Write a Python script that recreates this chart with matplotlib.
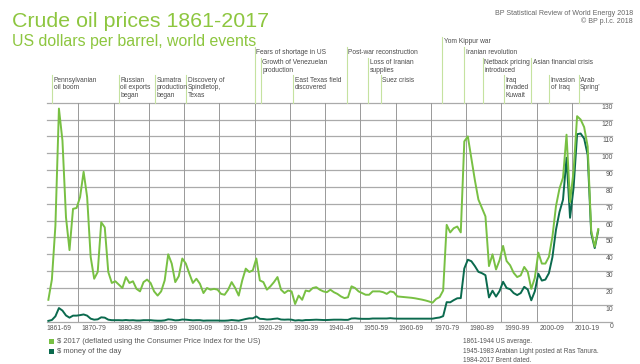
import matplotlib
matplotlib.use("Agg")
import matplotlib.pyplot as plt
import matplotlib.transforms as mtransforms
from matplotlib.patches import Rectangle
import numpy as np

plt.rcParams['font.family'] = ['Liberation Sans', 'DejaVu Sans']

# data
years = np.arange(1861, 2018)

usd_2017 = [
    13.0, 25.0, 57.0, 126.5, 107.5, 62.0, 42.5, 67.0, 67.5,             # 1861-69
    74.0, 89.0, 74.0, 38.5, 25.5, 29.5, 59.0, 56.0, 29.5, 23.0,         # 1870-79
    24.0, 22.0, 20.0, 26.5, 23.0, 24.0, 19.5, 18.0, 23.5, 25.0,         # 1880-89
    23.0, 18.0, 15.5, 18.0, 24.5, 40.0, 34.5, 23.5, 27.0, 37.5,         # 1890-99
    34.5, 28.5, 23.0, 25.5, 22.5, 17.0, 20.0, 19.0, 19.5, 19.0,         # 1900-09
    16.5, 16.0, 19.0, 23.5, 20.0, 15.5, 24.5, 31.5, 29.5, 30.5,         # 1910-19
    37.5, 24.5, 23.5, 19.0, 21.0, 23.5, 26.5, 19.0, 17.0, 18.5,         # 1920-29
    18.0, 10.5, 15.5, 13.0, 18.5, 18.0, 20.0, 20.5, 19.0, 18.0,         # 1930-39
    17.5, 19.0, 17.5, 16.5, 15.0, 14.0, 14.5, 21.0, 20.0, 18.0,         # 1940-49
    17.0, 16.0, 16.0, 18.0, 18.0, 18.0, 17.5, 16.5, 18.0, 17.5,         # 1950-59
    15.0, 14.8, 14.6, 14.4, 14.2, 13.9, 13.5, 13.1, 12.6, 12.0,         # 1960-69
    11.3, 13.5, 14.6, 18.5, 57.5, 53.0, 55.5, 56.5, 53.0, 107.0,        # 1970-79
    110.0, 97.0, 84.0, 72.5, 67.5, 62.5, 33.0, 40.0, 31.0, 36.5,        # 1980-89
    45.0, 36.0, 33.5, 29.0, 26.5, 27.5, 32.5, 29.5, 19.5, 26.0,         # 1990-99
    41.0, 34.5, 34.5, 38.5, 50.5, 68.5, 79.0, 85.5, 111.0, 71.0,        # 2000-09
    89.5, 122.0, 120.0, 115.5, 104.0, 54.0, 44.5, 55.0,                 # 2010-17
]

usd_money_of_day = [
    0.5, 1.0, 3.2, 8.1, 6.6, 3.7, 2.4, 3.6, 3.6,                        # 1861-69
    3.9, 4.3, 3.6, 1.8, 1.2, 1.4, 2.6, 2.4, 1.2, 0.9,                   # 1870-79
    0.9, 0.9, 0.8, 1.0, 0.8, 0.9, 0.7, 0.7, 0.9, 0.9,                   # 1880-89
    0.9, 0.7, 0.6, 0.6, 0.8, 1.4, 1.2, 0.8, 0.9, 1.3,                   # 1890-99
    1.2, 1.0, 0.8, 0.9, 0.9, 0.6, 0.7, 0.7, 0.7, 0.7,                   # 1900-09
    0.6, 0.6, 0.7, 1.0, 0.8, 0.6, 1.1, 1.6, 2.0, 2.0,                   # 1910-19
    3.1, 1.7, 1.6, 1.3, 1.4, 1.7, 1.9, 1.3, 1.2, 1.3,                   # 1920-29
    1.2, 0.7, 0.9, 0.7, 1.0, 1.0, 1.1, 1.2, 1.1, 1.0,                   # 1930-39
    1.0, 1.1, 1.2, 1.2, 1.2, 1.1, 1.1, 1.9, 2.0, 1.8,                   # 1940-49
    1.7, 1.7, 1.7, 1.9, 1.9, 1.9, 1.9, 1.9, 2.1, 1.9,                   # 1950-59
    1.8, 1.8, 1.8, 1.8, 1.8, 1.8, 1.8, 1.8, 1.8, 1.8,                   # 1960-69
    1.8, 2.2, 2.5, 3.3, 11.6, 11.5, 12.8, 13.9, 14.0, 31.6,             # 1970-79
    36.8, 35.9, 33.0, 29.6, 28.8, 27.6, 14.4, 18.4, 14.9, 18.2,         # 1980-89
    23.7, 20.0, 19.3, 17.0, 15.8, 17.0, 20.7, 19.1, 12.7, 18.0,         # 1990-99
    28.5, 24.4, 25.0, 28.8, 38.3, 54.5, 65.1, 72.4, 97.3, 61.7,         # 2000-09
    79.5, 111.3, 111.7, 108.7, 99.0, 52.4, 43.7, 54.2,                  # 2010-17
]

decade_starts = list(range(1860, 2020, 10))
decade_labels = ["1861-69", "1870-79", "1880-89", "1890-99", "1900-09",
                 "1910-19", "1920-29", "1930-39", "1940-49", "1950-59",
                 "1960-69", "1970-79", "1980-89", "1990-99", "2000-09", "2010-19"]
y_ticks = list(range(0, 140, 10))

event_names = ["Pennsylvanian\noil boom", "Russian\noil exports\nbegan",
               "Sumatra\nproduction\nbegan", "Discovery of\nSpindletop,\nTexas",
               "Fears of shortage in US", "Growth of Venezuelan\nproduction",
               "East Texas field\ndiscovered", "Post-war reconstruction",
               "Loss of Iranian\nsupplies", "Suez crisis", "Yom Kippur war",
               "Iranian revolution", "Netback pricing\nintroduced",
               "Iraq\ninvaded\nKuwait", "Asian financial crisis",
               "Invasion\nof Iraq", "\u2018Arab\nSpring\u2019"]
event_years = [1862.1, 1881.0, 1891.2, 1900.1, 1919.5, 1921.3, 1930.5,
               1945.6, 1951.7, 1955.3, 1972.7, 1978.9, 1984.2, 1990.2,
               1998.0, 2003.1, 2011.4]
event_rows = [3, 3, 3, 3, 1, 2, 3, 1, 2, 3, 0, 1, 2, 3, 2, 3, 3]

# colours
light = '#78c043'
dark = '#0b6a4e'
title_col = '#8dc63f'
grey_txt = '#555555'

W, H = 640, 364
ax_left, ax_right, ax_top, ax_bot = 47.3, 612.0, 102.7, 321.7

fig = plt.figure(figsize=(W / 100, H / 100), dpi=100)
ax = fig.add_axes([ax_left / W, (H - ax_bot) / H,
                   (ax_right - ax_left) / W, (ax_bot - ax_top) / H])
ax.set_xlim(1860.7, 2020.9)
ax.set_ylim(0, 130)
for s in ax.spines.values():
    s.set_visible(False)

# grid
for v in y_ticks:
    ax.axhline(v, color='#aaaaaa', lw=0.9, zorder=1, clip_on=False)
for d in decade_starts[1:]:
    ax.axvline(d - 0.5, color='#999999', lw=0.7, zorder=1)

ax.plot(years, usd_money_of_day, color=dark, lw=1.4, zorder=3)
ax.plot(years, usd_2017, color=light, lw=1.4, zorder=4)

# x labels
ax.set_yticks([])
ax.set_xticks([d + 4 for d in decade_starts])
ax.set_xticklabels(decade_labels, fontsize=4.9, color=grey_txt)
ax.tick_params(axis='x', length=0, pad=2.5)

# y labels, sitting just under each gridline on the right
ytrans = mtransforms.blended_transform_factory(ax.transAxes, ax.transData)
for v in y_ticks:
    ax.text(1.002, v - 0.6, str(v), transform=ytrans, ha='right', va='top',
            fontsize=4.9, color=grey_txt)

# events
row_tops = [38.0, 48.7, 59.3, 76.7]
xtrans = ax.get_xaxis_transform()
for name, yr, row in zip(event_names, event_years, event_rows):
    fy = (ax_bot - row_tops[row]) / (ax_bot - ax_top)
    ax.plot([yr, yr], [1.0, fy + 1.5 / (ax_bot - ax_top)], transform=xtrans,
            color='#c5e2a0', lw=0.8, clip_on=False, zorder=2)
    ax.text(yr + 0.45, fy, name, transform=xtrans, ha='left', va='top',
            fontsize=4.75, color='#4a4a4a', linespacing=1.1)

# titles
fig.text(12 / W, 1 - 27 / H, "Crude oil prices 1861-2017", fontsize=15.4,
         color=title_col, va='baseline', ha='left')
fig.text(12 / W, 1 - 46 / H, "US dollars per barrel, world events", fontsize=11.4,
         color=title_col, va='baseline', ha='left')
fig.text(633 / W, 1 - 15 / H, "BP Statistical Review of World Energy 2018",
         fontsize=5.1, color='#666666', va='baseline', ha='right')
fig.text(633 / W, 1 - 23.3 / H, "\u00a9 BP p.l.c. 2018",
         fontsize=5.1, color='#666666', va='baseline', ha='right')

# legend
for yc, col, lab in [(341.5, light, "$ 2017 (deflated using the Consumer Price Index for the US)"),
                     (351.5, dark, "$ money of the day")]:
    fig.add_artist(Rectangle((49 / W, (H - yc - 2.5) / H), 5 / W, 5 / H,
                             transform=fig.transFigure, color=col, lw=0))
    fig.text(57 / W, 1 - yc / H, lab, fontsize=5.4, color=grey_txt,
             va='center', ha='left')

# notes
for yc, note in [(341.3, "1861-1944 US average."),
                 (351.3, "1945-1983 Arabian Light posted at Ras Tanura."),
                 (360.7, "1984-2017 Brent dated.")]:
    fig.text(462.7 / W, 1 - yc / H, note, fontsize=4.7, color=grey_txt,
             va='center', ha='left')

fig.savefig("out.png", dpi=100)
